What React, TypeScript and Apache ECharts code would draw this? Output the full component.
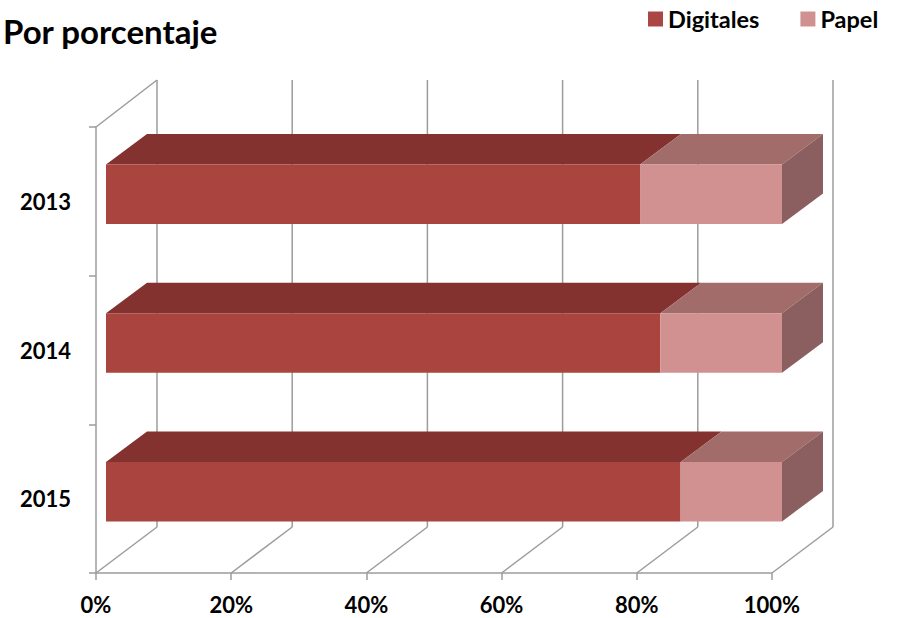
import React, { useEffect, useRef } from "react";
import * as echarts from "echarts";

const titleText = "Por porcentaje";
const categories = ["2013", "2014", "2015"];
const digitales = [79, 82, 85];
const papel = [21, 18, 15];
const gridTicks = [0, 20, 40, 60, 80, 100];

const FONT = "Lato, 'Open Sans', sans-serif";
const LINE = "#9c9c9c";

const frontOffset = [10, -7];
const barDepth = [41, -30.5];
const wallDepth = [61, -46];
const barHeight = 59.5;

function face(points: number[][], fill: any) {
  return { type: "polygon", shape: { points }, style: { fill, stroke: null }, silent: true };
}

function barRenderer(front: any, top: string, side: string, withSide: boolean) {
  return (_params: any, api: any) => {
    const a = api.coord([api.value(0), api.value(2)]);
    const b = api.coord([api.value(1), api.value(2)]);
    const x0 = a[0] + frontOffset[0];
    const x1 = b[0] + frontOffset[0];
    const yc = a[1] + frontOffset[1];
    const y0 = yc - barHeight / 2;
    const y1 = yc + barHeight / 2;
    const dx = barDepth[0];
    const dy = barDepth[1];
    const children: any[] = [
      face([[x0, y0], [x0 + dx, y0 + dy], [x1 + dx, y0 + dy], [x1, y0]], top),
      face([[x0, y0], [x1, y0], [x1, y1], [x0, y1]], front),
    ];
    if (withSide) {
      children.push(face([[x1, y0], [x1 + dx, y0 + dy], [x1 + dx, y1 + dy], [x1, y1]], side));
    }
    return { type: "group", children };
  };
}

function wallRenderer(params: any, api: any) {
  const v = api.value(0);
  const cs = params.coordSys;
  const p = api.coord([v, 0]);
  const floor = cs.y + cs.height;
  const x = p[0];
  const bx = x + wallDepth[0];
  const by = floor + wallDepth[1];
  const topY = cs.y + wallDepth[1] - 1;
  const lineStyle = { stroke: LINE, lineWidth: 1.5, fill: null };
  const children: any[] = [
    { type: "line", shape: { x1: bx, y1: topY, x2: bx, y2: by }, style: lineStyle, silent: true },
    { type: "line", shape: { x1: x, y1: floor, x2: bx, y2: by }, style: lineStyle, silent: true },
  ];
  if (v === gridTicks[0]) {
    children.push({
      type: "line",
      shape: { x1: x, y1: cs.y, x2: bx, y2: topY },
      style: lineStyle,
      silent: true,
    });
  }
  return { type: "group", children };
}

export default function App() {
  const ref = useRef<HTMLDivElement>(null);
  useEffect(() => {
    document.body.style.margin = "0";
    const chart = echarts.init(ref.current!, null, { renderer: "svg" });
    const axisLine = { show: true, onZero: false, lineStyle: { color: LINE, width: 1.5 } };
    const axisTick = { show: true, length: 7, lineStyle: { color: LINE, width: 1.5 } };
    const labelStyle = { color: "#000", fontFamily: FONT, fontWeight: "bold" as const };
    chart.setOption({
      animation: false,
      backgroundColor: "#fff",
      title: {
        text: titleText,
        left: 3,
        top: 14,
        padding: 0,
        textStyle: { color: "#000", fontFamily: FONT, fontWeight: "bold", fontSize: 33 },
      },
      legend: {
        data: ["Digitales", "Papel"],
        left: 648,
        top: 7,
        padding: 0,
        itemWidth: 15,
        itemHeight: 15,
        itemGap: 41,
        icon: "rect",
        textStyle: { color: "#000", fontFamily: FONT, fontWeight: "bold", fontSize: 23.5 },
      },
      grid: { left: 96, right: 131, top: 127, bottom: 45 },
      xAxis: {
        type: "value",
        position: "bottom",
        min: 0,
        max: 100,
        interval: 20,
        splitLine: { show: false },
        axisLine,
        axisTick,
        axisLabel: { ...labelStyle, fontSize: 22, lineHeight: 22, formatter: "{value}%", margin: 20 },
      },
      yAxis: {
        type: "category",
        inverse: true,
        data: categories,
        splitLine: { show: false },
        axisLine,
        axisTick,
        axisLabel: { ...labelStyle, fontSize: 22, margin: 25 },
      },
      series: [
        {
          type: "custom",
          name: "walls",
          silent: true,
          clip: false,
          data: gridTicks.map((t) => [t]),
          encode: { x: 0 },
          renderItem: wallRenderer,
        },
        {
          type: "custom",
          name: "Digitales",
          silent: true,
          clip: false,
          itemStyle: { color: "#aa4643" },
          data: categories.map((_, i) => [0, digitales[i], i]),
          encode: { x: [0, 1], y: 2 },
          renderItem: barRenderer("#a9443f", "#83322f", "#83322f", false),
        },
        {
          type: "custom",
          name: "Papel",
          silent: true,
          clip: false,
          itemStyle: { color: "#d09291" },
          data: categories.map((_, i) => [digitales[i], digitales[i] + papel[i], i]),
          encode: { x: [0, 1], y: 2 },
          renderItem: barRenderer("#d19190", "#a26c6b", "#8b5f5f", true),
        },
      ],
    });
    return () => chart.dispose();
  }, []);
  return <div ref={ref} style={{ width: 903, height: 618 }} />;
}
